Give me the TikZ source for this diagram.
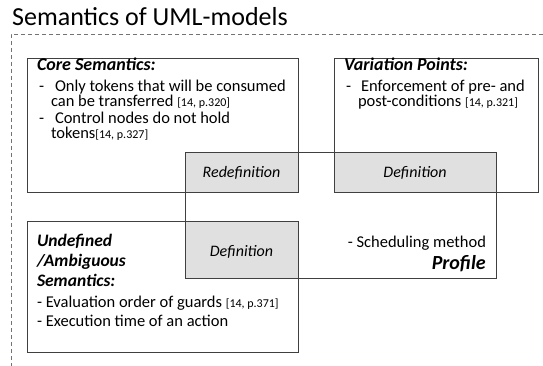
\documentclass[tikz,border=0pt]{standalone}
\usepackage{fontspec}
\setmainfont{Carlito}
\newcommand{\refcite}[1]{{\fontsize{12}{14}\selectfont #1}}
\begin{document}
\begin{tikzpicture}[x=1pt,y=-1pt,
  frame/.style={draw=black!75, line width=0.9pt, inner sep=0pt, outer sep=0pt, anchor=north west},
  graybox/.style={fill=black!12, draw=none, inner sep=0pt, outer sep=0pt, anchor=north west},
  txt/.style={anchor=base west, inner sep=0pt, outer sep=0pt, font=\fontsize{16.5}{18}\selectfont},
  head/.style={txt, font=\fontsize{18}{20}\selectfont\bfseries\itshape},
  bighead/.style={txt, font=\fontsize{17.5}{20}\selectfont\bfseries\itshape},
  lbl/.style={anchor=base, inner sep=0pt, outer sep=0pt, font=\fontsize{16}{18}\selectfont\itshape},
  dashframe/.style={draw=black!55, line width=0.8pt, dash pattern=on 4pt off 3pt}]
\useasboundingbox (0,0) rectangle (543,366);
% title
\node[anchor=base west, inner sep=0pt, font=\fontsize{26}{28}\selectfont] (title) at (12,26) {Semantics of UML-models};
% dashed frame
\coordinate (fr) at (543,34);
\coordinate (fc) at (11,34);
\coordinate (fb) at (11,366);
\draw[dashframe] (fr) -- (fc) -- (fb);
% gray overlaps
\node[graybox, minimum width=113pt, minimum height=40pt] (redefbg) at (185,152) {};
\node[graybox, minimum width=162pt, minimum height=40pt] (defrbg) at (334,152) {};
\node[graybox, minimum width=113pt, minimum height=57pt] (deflbg) at (185,221) {};
% boxes
\node[frame, minimum width=271pt, minimum height=134pt] (core) at (27,58) {};
\node[frame, minimum width=204pt, minimum height=134pt] (var) at (334,58) {};
\node[frame, minimum width=311pt, minimum height=126pt] (prof) at (185,152) {};
\node[frame, minimum width=271pt, minimum height=131pt] (undef) at (27,221) {};
% labels in overlaps
\node[lbl] (redef) at (241.5,178) {Redefinition};
\node[lbl] (defr) at (415,178) {Definition};
\node[lbl] (defl) at (241.5,256) {Definition};
% core text
\node[head] (coreh) at (37,71) {Core Semantics:};
\node[txt] (c1a) at (39,92) {-};
\node[txt] (c1) at (55,92) {Only tokens that will be consumed};
\node[txt] (c2) at (51,107) {can be transferred \refcite{[14, p.320]}};
\node[txt] (c3a) at (39,124) {-};
\node[txt] (c3) at (55,124) {Control nodes do not hold};
\node[txt] (c4) at (51,139) {tokens\refcite{[14, p.327]}};
% variation text
\node[head] (varh) at (344,71) {Variation Points:};
\node[txt] (v1a) at (346,92) {-};
\node[txt] (v1) at (361,92) {Enforcement of pre- and};
\node[txt] (v2) at (358,107) {post-conditions \refcite{[14, p.321]}};
% undefined text
\node[bighead] (u1) at (37,246) {Undefined};
\node[bighead] (u2) at (37,266) {/Ambiguous};
\node[bighead] (u3) at (37,286) {Semantics:};
\node[txt] (u4) at (37,307) {- Evaluation order of guards \refcite{[14, p.371]}};
\node[txt] (u5) at (37,326) {- Execution time of an action};
% profile text
\node[txt, anchor=base east] (p1) at (486,247) {- Scheduling method};
\node[anchor=base east, inner sep=0pt, font=\fontsize{20}{22}\selectfont\bfseries\itshape] (p2) at (486,269) {Profile};
\end{tikzpicture}
\end{document}
